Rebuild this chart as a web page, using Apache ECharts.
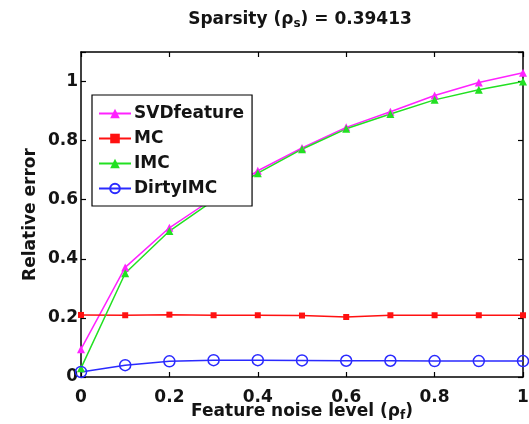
<!DOCTYPE html>
<html>
<head>
<meta charset="utf-8">
<script src="https://cdn.jsdelivr.net/npm/echarts@6/dist/echarts.min.js"></script>
<style>
  html, body { margin: 0; padding: 0; background: #fff; }
  #chart { width: 529px; height: 424px; }
</style>
</head>
<body>
<div id="chart"></div>
<script>
// Feature noise levels on the x axis
const noiseLevels = [0, 0.1, 0.2, 0.3, 0.4, 0.5, 0.6, 0.7, 0.8, 0.9, 1.0];

// Relative error per method
const svdFeature = [0.094, 0.371, 0.505, 0.605, 0.698, 0.775, 0.845, 0.898, 0.953, 0.997, 1.030];
const mc         = [0.210, 0.209, 0.211, 0.209, 0.209, 0.208, 0.203, 0.209, 0.209, 0.209, 0.209];
const imc        = [0.030, 0.351, 0.494, 0.598, 0.690, 0.771, 0.840, 0.890, 0.938, 0.972, 1.000];
const dirtyImc   = [0.017, 0.040, 0.053, 0.057, 0.057, 0.056, 0.055, 0.055, 0.054, 0.054, 0.054];

const xTicks = [0, 0.2, 0.4, 0.6, 0.8, 1];
const yTicks = [0, 0.2, 0.4, 0.6, 0.8, 1];

const FONT = '"DejaVu Sans", "Liberation Sans", Arial, sans-serif';
const FS = 17;
const TXT = '#141414';

function pairs(vals) {
  return noiseLevels.map((x, i) => [x, vals[i]]);
}

function tickLabel(v) {
  return String(Math.round(v * 10) / 10);
}

const subStyle = {
  fontFamily: FONT, fontWeight: 'bold', fontSize: 12, color: TXT,
  verticalAlign: 'bottom', padding: [9, 0, 0, 0]
};

const chart = echarts.init(document.getElementById('chart'), null, { renderer: 'canvas' });

// Box-style axes: a frame on all four sides, ticks pointing inward
const axisBase = {
  type: 'value',
  axisLine: { show: true, onZero: false, lineStyle: { color: '#000', width: 1.5 } },
  axisTick: { show: true, inside: true, length: 5, lineStyle: { color: '#000', width: 1.2 } },
  splitLine: { show: false }
};

chart.setOption({
  animation: false,
  backgroundColor: '#fff',
  title: {
    text: 'Sparsity (ρ{sub|s}) = 0.39413',
    left: 295,
    textAlign: 'center',
    top: 4,
    textStyle: {
      fontFamily: FONT, fontWeight: 'bold', fontSize: FS, color: TXT,
      rich: { sub: subStyle }
    }
  },
  grid: { left: 81, right: 6, top: 52, bottom: 47, containLabel: false, outerBoundsMode: 'none' },
  legend: {
    orient: 'vertical',
    left: 92,
    top: 95,
    padding: [10, 8, 9, 6],
    itemGap: 8,
    itemWidth: 32,
    itemHeight: 12,
    borderColor: '#000',
    borderWidth: 1.2,
    backgroundColor: '#fff',
    textStyle: { fontFamily: FONT, fontWeight: 'bold', fontSize: FS, color: TXT, lineHeight: 17, padding: [0, 0, 0, -2] },
    data: ['SVDfeature', 'MC', 'IMC', 'DirtyIMC']
  },
  xAxis: [
    Object.assign({}, axisBase, {
      min: 0, max: 1, interval: 0.2,
      position: 'bottom',
      name: 'Feature noise level (ρ{sub|f})',
      nameLocation: 'middle',
      nameGap: 24,
      nameMoveOverlap: false,
      nameTextStyle: {
        fontFamily: FONT, fontWeight: 'bold', fontSize: FS, color: TXT,
        rich: { sub: subStyle }
      },
      axisLabel: {
        fontFamily: FONT, fontWeight: 'bold', fontSize: FS, color: TXT, margin: 12,
        formatter: v => xTicks.some(t => Math.abs(t - v) < 1e-9) ? tickLabel(v) : ''
      }
    }),
    Object.assign({}, axisBase, {
      min: 0, max: 1, interval: 0.2,
      position: 'top',
      axisLabel: { show: false }
    })
  ],
  yAxis: [
    Object.assign({}, axisBase, {
      min: 0, max: 1.1, interval: 0.2,
      position: 'left',
      name: 'Relative error',
      nameLocation: 'middle',
      nameGap: 42,
      nameMoveOverlap: false,
      nameRotate: 90,
      nameTextStyle: { fontFamily: FONT, fontWeight: 'bold', fontSize: FS, color: TXT },
      axisLabel: {
        fontFamily: FONT, fontWeight: 'bold', fontSize: FS, color: TXT, margin: 3,
        formatter: v => yTicks.some(t => Math.abs(t - v) < 1e-9) ? tickLabel(v) : ''
      }
    }),
    Object.assign({}, axisBase, {
      min: 0, max: 1.1, interval: 0.2,
      position: 'right',
      axisLabel: { show: false }
    })
  ],
  series: [
    {
      name: 'SVDfeature', type: 'line', data: pairs(svdFeature),
      symbol: 'triangle', symbolSize: 8,
      itemStyle: { color: '#ff22ff' },
      lineStyle: { color: '#ff22ff', width: 1.5 }
    },
    {
      name: 'MC', type: 'line', data: pairs(mc),
      symbol: 'rect', symbolSize: 6,
      itemStyle: { color: '#ff1111' },
      lineStyle: { color: '#ff1111', width: 1.5 }
    },
    {
      name: 'IMC', type: 'line', data: pairs(imc),
      symbol: 'triangle', symbolSize: 8,
      itemStyle: { color: '#22e022' },
      lineStyle: { color: '#22e022', width: 1.5 }
    },
    {
      name: 'DirtyIMC', type: 'line', data: pairs(dirtyImc),
      symbol: 'circle', symbolSize: 11,
      itemStyle: { color: 'rgba(255,255,255,0)', borderColor: '#2a2aff', borderWidth: 1.5 },
      lineStyle: { color: '#2a2aff', width: 1.5 }
    }
  ]
});
</script>
</body>
</html>
